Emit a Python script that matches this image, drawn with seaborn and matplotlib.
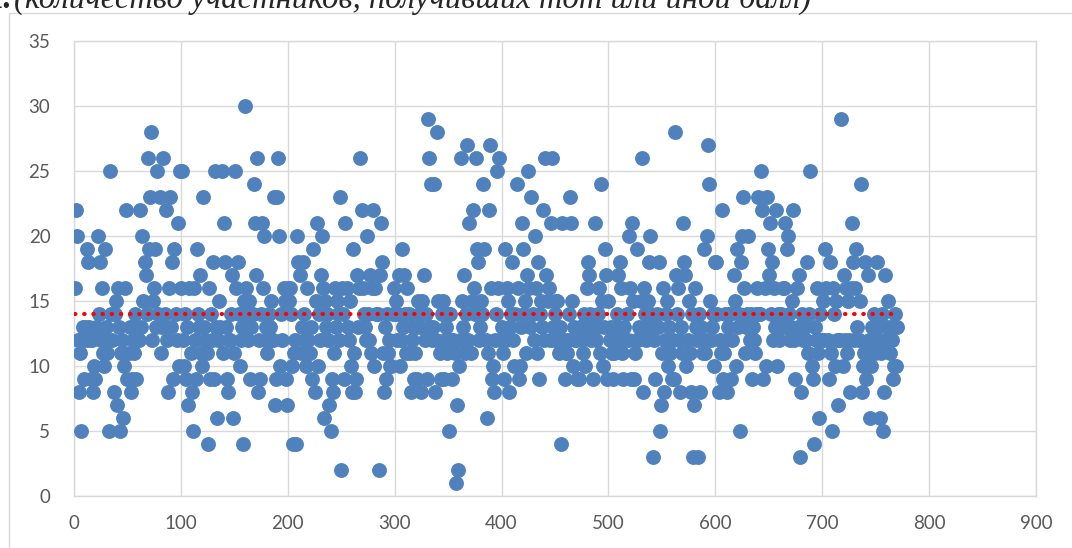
import numpy as np
import pandas as pd
import matplotlib as mpl
import matplotlib.pyplot as plt
from matplotlib.lines import Line2D
import seaborn as sns


# scores of participants, 10 per row
scores_001_100 = [
    16, 22, 20, 12, 8, 11, 5, 13, 9, 13,
    12, 19, 18, 13, 12, 9, 12, 8, 10, 9,
    13, 20, 14, 18, 12, 16, 11, 10, 19, 13,
    11, 12, 5, 25, 14, 12, 8, 14, 15, 7,
    16, 13, 5, 11, 12, 6, 10, 16, 22, 9,
    11, 13, 8, 9, 12, 11, 14, 9, 13, 12,
    12, 22, 13, 20, 15, 18, 17, 14, 26, 19,
    23, 28, 12, 15, 16, 19, 13, 25, 14, 23,
    11, 13, 26, 13, 14, 22, 12, 8, 16, 23,
    13, 18, 9, 19, 14, 12, 21, 10, 25, 16,
]
scores_101_200 = [
    25, 12, 10, 14, 9, 13, 7, 16, 11, 8,
    5, 16, 12, 9, 19, 14, 13, 17, 11, 10,
    23, 13, 12, 11, 4, 16, 9, 14, 12, 18,
    9, 25, 13, 6, 12, 15, 13, 25, 11, 21,
    18, 13, 9, 8, 12, 12, 14, 17, 6, 11,
    25, 16, 18, 14, 10, 12, 13, 4, 15, 30,
    16, 14, 12, 15, 9, 13, 14, 24, 21, 17,
    26, 8, 12, 9, 14, 21, 16, 20, 12, 13,
    11, 14, 13, 15, 12, 12, 23, 7, 9, 23,
    26, 20, 10, 14, 12, 16, 15, 9, 7, 16,
]
scores_201_300 = [
    15, 16, 14, 10, 4, 11, 12, 4, 20, 18,
    17, 11, 13, 18, 14, 12, 10, 16, 12, 11,
    11, 13, 9, 19, 8, 15, 21, 10, 14, 12,
    17, 20, 16, 6, 15, 13, 14, 12, 7, 5,
    9, 8, 11, 16, 13, 15, 14, 12, 23, 2,
    16, 14, 9, 21, 16, 13, 12, 15, 10, 8,
    19, 11, 8, 9, 17, 13, 16, 26, 22, 16,
    14, 13, 12, 20, 14, 12, 17, 11, 16, 22,
    10, 16, 14, 14, 2, 17, 21, 18, 11, 8,
    13, 9, 14, 11, 12, 10, 10, 14, 16, 14,
]
scores_301_400 = [
    15, 12, 14, 17, 10, 12, 19, 13, 17, 14,
    11, 16, 14, 11, 8, 12, 13, 9, 11, 13,
    9, 15, 14, 13, 8, 15, 17, 12, 14, 9,
    29, 26, 13, 24, 12, 13, 24, 8, 12, 28,
    15, 11, 9, 14, 15, 9, 12, 13, 11, 14,
    5, 14, 12, 9, 12, 11, 1, 7, 2, 10,
    12, 26, 15, 13, 17, 11, 14, 27, 12, 21,
    11, 15, 22, 16, 14, 26, 19, 18, 12, 13,
    15, 14, 24, 19, 12, 6, 11, 22, 27, 16,
    9, 10, 8, 12, 14, 25, 16, 26, 12, 13,
]
scores_401_500 = [
    11, 9, 19, 12, 16, 15, 8, 13, 14, 18,
    12, 10, 14, 24, 16, 9, 10, 13, 21, 19,
    14, 15, 11, 17, 25, 16, 13, 23, 14, 12,
    20, 16, 11, 18, 9, 14, 15, 13, 22, 12,
    26, 17, 15, 16, 12, 21, 26, 13, 12, 14,
    15, 15, 12, 11, 13, 4, 21, 12, 9, 11,
    11, 12, 14, 23, 21, 15, 10, 13, 12, 12,
    9, 9, 13, 13, 12, 11, 14, 10, 13, 16,
    18, 17, 14, 12, 13, 9, 21, 12, 13, 14,
    16, 11, 24, 15, 10, 13, 19, 17, 9, 15,
]
scores_501_600 = [
    12, 13, 11, 9, 11, 12, 13, 14, 17, 12,
    18, 16, 11, 9, 13, 12, 14, 12, 20, 16,
    9, 21, 15, 9, 11, 12, 19, 12, 13, 15,
    26, 8, 16, 14, 12, 13, 15, 18, 20, 14,
    13, 3, 12, 9, 14, 13, 18, 5, 7, 11,
    16, 8, 12, 14, 15, 10, 13, 11, 9, 12,
    9, 28, 17, 14, 16, 12, 8, 13, 11, 21,
    18, 17, 10, 12, 15, 11, 8, 14, 3, 7,
    16, 13, 12, 3, 14, 8, 13, 11, 19, 11,
    12, 20, 27, 24, 15, 12, 13, 14, 10, 18,
]
scores_601_700 = [
    18, 14, 8, 12, 11, 22, 9, 11, 14, 12,
    8, 13, 14, 14, 9, 12, 17, 15, 10, 19,
    13, 14, 5, 18, 20, 23, 16, 11, 13, 14,
    20, 12, 14, 9, 13, 12, 11, 14, 16, 23,
    14, 14, 25, 22, 9, 16, 10, 23, 19, 17,
    21, 14, 18, 12, 16, 13, 22, 10, 14, 12,
    14, 13, 16, 16, 21, 13, 19, 20, 14, 12,
    13, 15, 22, 12, 9, 16, 13, 17, 3, 8,
    14, 12, 13, 13, 12, 18, 11, 14, 25, 10,
    9, 4, 13, 12, 16, 11, 6, 14, 12, 12,
]
scores_701_770 = [
    15, 12, 19, 16, 12, 9, 18, 11, 5, 16,
    14, 10, 15, 12, 7, 12, 12, 29, 10, 17,
    12, 16, 11, 15, 12, 8, 16, 21, 18, 12,
    16, 19, 13, 12, 15, 24, 8, 10, 11, 18,
    9, 11, 17, 12, 6, 10, 13, 14, 11, 12,
    18, 13, 12, 6, 11, 14, 5, 8, 17, 12,
    13, 15, 11, 13, 12, 9, 10, 14, 10, 13,
]
mean_score = 14

x_ticks = list(range(0, 901, 100))
y_ticks = list(range(0, 36, 5))
caption_num = "1."
caption = "(количество участников, получивших тот или иной балл)"

W, H = 1072, 548
GRID = "#D9D9D9"

scores = (
    scores_001_100 + scores_101_200 + scores_201_300 + scores_301_400
    + scores_401_500 + scores_501_600 + scores_601_700 + scores_701_770
)
df = pd.DataFrame({"participant": np.arange(1, len(scores) + 1), "score": scores})
df_mean = pd.DataFrame(
    {
        "participant": [df["participant"].min(), df["participant"].max()],
        "score": [mean_score, mean_score],
    }
)

sns.set_theme(style="white")
mpl.rcParams["font.family"] = ["Lato", "DejaVu Sans"]

fig = plt.figure(figsize=(W / 100, H / 100), dpi=100)
ax = fig.add_axes([74 / W, 52 / H, 962 / W, 455 / H])

sns.scatterplot(
    data=df, x="participant", y="score", color="#4F81BD",
    s=115, linewidth=0, alpha=1, ax=ax, zorder=3, legend=False,
)
sns.lineplot(data=df_mean, x="participant", y="score", color="#FF0000",
             linewidth=3, ax=ax, zorder=4)
mean_line = ax.lines[-1]
mean_line.set_linestyle((0, (0.1, 2.1)))
mean_line.set_dash_capstyle("round")

ax.set_xlim(0, 900)
ax.set_ylim(0, 35)
ax.set_xticks(x_ticks)
ax.set_yticks(y_ticks)
ax.set_xlabel("")
ax.set_ylabel("")
ax.grid(True, color=GRID, linewidth=1)
ax.set_axisbelow(True)
for sp in ax.spines.values():
    sp.set_color(GRID)
    sp.set_linewidth(1)
ax.tick_params(axis="both", length=0, labelsize=13.5, colors="#595959")
ax.tick_params(axis="y", pad=17)
ax.tick_params(axis="x", pad=14)

# outer chart frame (cut by the picture edges)
fig.add_artist(Line2D([9 / W, 9 / W], [0, 1 - 13 / H], transform=fig.transFigure,
                      color=GRID, linewidth=1))
fig.add_artist(Line2D([9 / W, 1], [1 - 13 / H, 1 - 13 / H], transform=fig.transFigure,
                      color=GRID, linewidth=1))

# caption, its top half is cut off by the picture edge
fig.text(11 / W, 1 - 8 / H, caption_num, ha="right", va="baseline",
         fontsize=23.5, fontweight="bold", family="Liberation Serif")
fig.text(14 / W, 1 - 8 / H, caption, ha="left", va="baseline",
         fontsize=23.5, style="italic", family="Liberation Serif")

fig.savefig("out.png", dpi=100)
